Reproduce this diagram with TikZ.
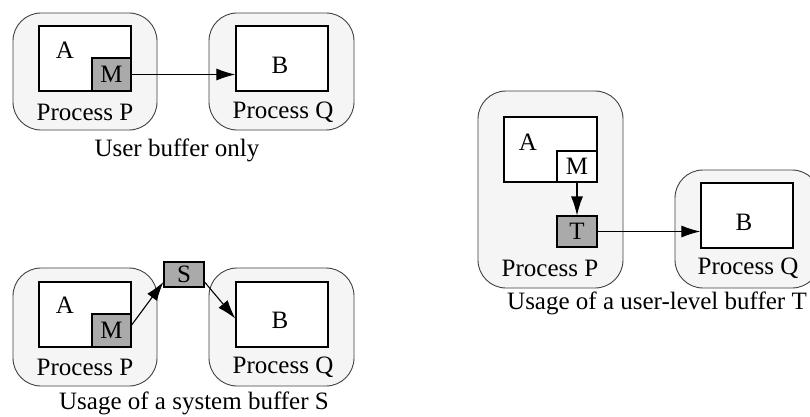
\documentclass[tikz,border=0pt]{standalone}
\usepackage{fontspec}
\setmainfont{Liberation Serif}
\usetikzlibrary{arrows.meta}
\definecolor{procfill}{RGB}{245,245,245}
\definecolor{bufgray}{RGB}{170,170,170}
\tikzset{
  proc/.style={draw=black!75,fill=procfill,line width=0.9pt,rounded corners=28pt,inner sep=0pt},
  mem/.style={draw=black,fill=white,line width=1.3pt,inner sep=0pt,minimum width=92pt,minimum height=65pt},
  buf/.style={draw=black,fill=bufgray,line width=1.1pt,inner sep=0pt,minimum width=39pt,minimum height=32pt},
  txt/.style={inner sep=0pt},
  msg/.style={-{Latex[length=19pt,width=12pt]},line width=1.1pt}
}
\begin{document}
\begin{tikzpicture}[x=1pt,y=-1pt,font=\fontsize{25}{30}\selectfont]
    \clip (0,0) rectangle (810,417);
    \fill[white] (0,0) rectangle (810,417);
    % user buffer only
    \node[proc,minimum width=144pt,minimum height=117pt] (p1) at (85,71.5) {};
    \node[proc,minimum width=145pt,minimum height=117pt] (q1) at (281.5,71.5) {};
    \node[mem] (a1) at (85,58.5) {};
    \node[buf,minimum height=33pt] (m1) at (111.5,74.5) {M};
    \node[mem] (b1) at (282,58.5) {};
    \node[txt] (la1) at (65,50) {A};
    \node[txt] (lb1) at (280,65) {B};
    \node[txt] (lp1) at (85,112) {Process P};
    \node[txt] (lq1) at (283,112) {Process Q};
    \node[txt] (c1) at (177,150) {User buffer only};
    \draw[msg] (m1.east) -- (b1.west |- m1.east);
    %
    % system buffer S
    \node[proc,minimum width=144pt,minimum height=118pt] (p2) at (85,327) {};
    \node[proc,minimum width=145pt,minimum height=118pt] (q2) at (281.5,327) {};
    \node[mem] (a2) at (85,314.5) {};
    \node[buf,minimum height=33pt] (m2) at (111.5,330.5) {M};
    \node[mem] (b2) at (282,314.5) {};
    \node[buf,minimum width=40pt,minimum height=25pt] (s2) at (184,274.5) {S};
    \node[txt] (la2) at (65,305) {A};
    \node[txt] (lb2) at (280,320) {B};
    \node[txt] (lp2) at (85,367) {Process P};
    \node[txt] (lq2) at (283,367) {Process Q};
    \node[txt] (c2) at (194,403) {Usage of a system buffer S};
    \draw[msg] (m2.15) -- (s2.200);
    \draw[msg] (s2.-20) -- (b2.185);
    %
    % user-level buffer T
    \node[proc,minimum width=145pt,minimum height=197pt] (p3) at (550.5,189.5) {};
    \node[proc,minimum width=145pt,minimum height=118pt] (q3) at (747.5,229) {};
    \node[mem,minimum width=93pt] (a3) at (550.5,149.5) {};
    \node[buf,fill=white,minimum width=40pt,minimum height=31pt] (m3) at (577,166.5) {M};
    \node[buf,minimum width=40pt,minimum height=31pt] (t3) at (577,231.5) {T};
    \node[mem] (b3) at (747,215.5) {};
    \node[txt] (la3) at (528,142) {A};
    \node[txt] (lb3) at (744,222) {B};
    \node[txt] (lp3) at (550,268) {Process P};
    \node[txt] (lq3) at (748,268) {Process Q};
    \node[txt] (c3) at (657,303) {Usage of a user-level buffer T};
    \draw[msg] (m3.south) -- (t3.north);
    \draw[msg] (t3.east) -- (b3.west |- t3.east);
  \end{tikzpicture}
\end{document}
